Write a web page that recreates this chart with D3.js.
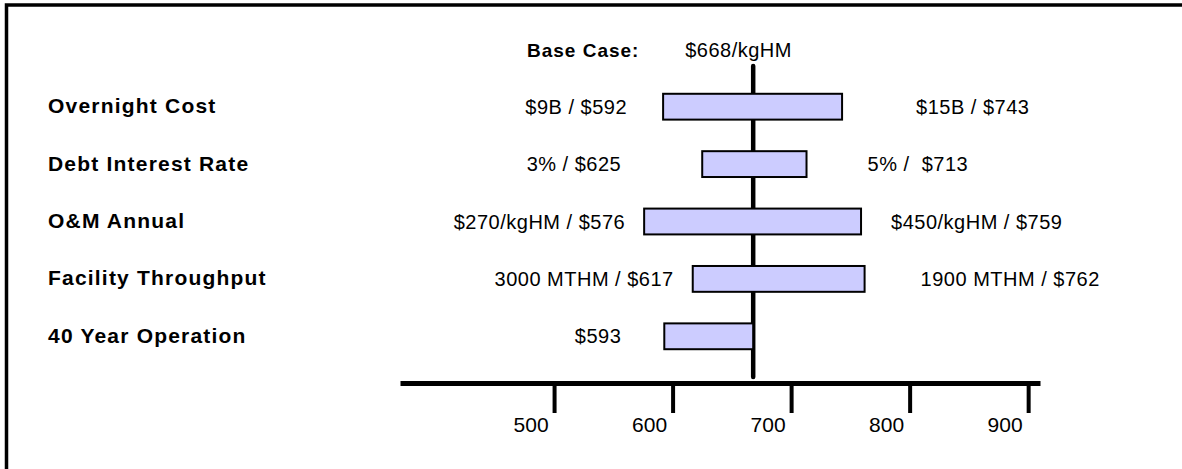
<!DOCTYPE html>
<html>
<head>
<meta charset="utf-8">
<script src="https://cdn.jsdelivr.net/npm/d3@7"></script>
<style>
  html, body { margin: 0; padding: 0; background: #fff; }
  svg { display: block; }
  text { font-family: "Liberation Sans", Arial, Helvetica, sans-serif; fill: #000; white-space: pre; }
</style>
</head>
<body>
<svg id="chart" width="1182" height="469"></svg>
<script>
// Sensitivity of levelized cost ($/kgHM) to key assumptions
const categories = ["Overnight Cost", "Debt Interest Rate", "O&M Annual", "Facility Throughput", "40 Year Operation"];
const lowValues  = [592, 625, 576, 617, 593];
const highValues = [743, 713, 759, 762, null];   // 40-year case only moves cost down
const lowLabels  = ["$9B / $592", "3% / $625", "$270/kgHM / $576", "3000 MTHM / $617", "$593"];
const highLabels = ["$15B / $743", "5% /  $713", "$450/kgHM / $759", "1900 MTHM / $762", ""];
const baseCase = 668;
const baseCaseLabel = "$668/kgHM";
const tickValues = [500, 600, 700, 800, 900];

// label spacing from the bar ends, in pixels
const leftLabelGap  = [36, 81, 19, 19, 43];
const rightLabelGap = [74, 61, 30, 56, 0];

const svg = d3.select("#chart");
const W = 1182, H = 469;

// outer frame (only top and left edges fall inside the view)
svg.append("rect")
  .attr("x", 6.5).attr("y", 5)
  .attr("width", W + 20).attr("height", H + 20)
  .attr("fill", "none").attr("stroke", "#000").attr("stroke-width", 3.5);

const x = d3.scaleLinear().domain([370, 910]).range([400, 1040]);
const y = d3.scaleBand().domain(categories).range([78, 365])
  .paddingInner(0.55).paddingOuter(0.275);

const rows = categories.map((c, i) => ({
  cat: c,
  low: lowValues[i],
  high: highValues[i],
  lowLabel: lowLabels[i],
  highLabel: highLabels[i],
  lg: leftLabelGap[i],
  rg: rightLabelGap[i]
}));

// base case reference line
svg.append("line")
  .attr("x1", x(baseCase)).attr("x2", x(baseCase))
  .attr("y1", 66).attr("y2", 377)
  .attr("stroke", "#000").attr("stroke-width", 4.5)
  .attr("stroke-linecap", "round");

// bars
svg.append("g").selectAll("rect").data(rows).join("rect")
  .attr("x", d => x(Math.min(d.low, baseCase)))
  .attr("y", d => y(d.cat))
  .attr("width", d => x(d.high == null ? baseCase : d.high) - x(Math.min(d.low, baseCase)))
  .attr("height", y.bandwidth())
  .attr("fill", "#ccccff")
  .attr("stroke", "#000")
  .attr("stroke-width", 2);

// category names
svg.append("g").selectAll("text").data(rows).join("text")
  .attr("x", 48)
  .attr("y", d => y(d.cat) + y.bandwidth() / 2 + 6.5)
  .attr("font-size", 21).attr("font-weight", "bold")
  .attr("letter-spacing", 1.2)
  .text(d => d.cat);

// low-side value labels
svg.append("g").selectAll("text").data(rows).join("text")
  .attr("x", d => x(d.low) - d.lg)
  .attr("y", d => y(d.cat) + y.bandwidth() / 2 + 7)
  .attr("text-anchor", "end")
  .attr("font-size", 20).attr("letter-spacing", 0.5)
  .text(d => d.lowLabel);

// high-side value labels
svg.append("g").selectAll("text").data(rows.filter(d => d.high != null)).join("text")
  .attr("x", d => x(d.high) + d.rg)
  .attr("y", d => y(d.cat) + y.bandwidth() / 2 + 7)
  .attr("font-size", 20).attr("letter-spacing", 0.5)
  .text(d => d.highLabel);

// base case heading
svg.append("text")
  .attr("x", 527).attr("y", 57)
  .attr("font-size", 19).attr("font-weight", "bold").attr("letter-spacing", 1)
  .text("Base Case:");
svg.append("text")
  .attr("x", x(baseCase) - 68).attr("y", 57)
  .attr("font-size", 20).attr("letter-spacing", 0.5)
  .text(baseCaseLabel);

// value axis
const axisY = 383;
const axis = svg.append("g")
  .attr("transform", `translate(0,${axisY})`)
  .call(d3.axisBottom(x).tickValues(tickValues).tickSize(30).tickSizeOuter(0).tickFormat(d3.format("d")));
axis.select(".domain").attr("stroke", "#000").attr("stroke-width", 5);
axis.selectAll(".tick line").attr("stroke", "#000").attr("stroke-width", 4);
axis.selectAll(".tick text")
  .attr("text-anchor", "end")
  .attr("x", -6).attr("y", 49).attr("dy", null)
  .attr("font-size", 21)
  .attr("font-family", "'Liberation Sans', Arial, sans-serif")
  .attr("fill", "#000");
</script>
</body>
</html>
